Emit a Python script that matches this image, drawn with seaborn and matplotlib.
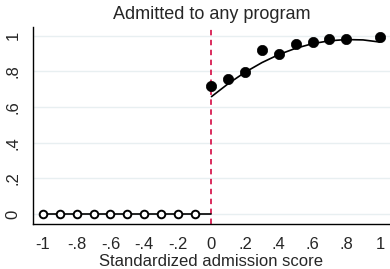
import numpy as np
import pandas as pd
import matplotlib
matplotlib.use("Agg")
import matplotlib.pyplot as plt
import seaborn as sns

# Data
left_x = [-1.0, -0.9, -0.8, -0.7, -0.6, -0.5, -0.4, -0.3, -0.2, -0.1]
left_y = [0, 0, 0, 0, 0, 0, 0, 0, 0, 0]
left_fit_x = [-1.0, 0.0]
left_fit_y = [0.0, 0.0]
right_x = [0.0, 0.1, 0.2, 0.3, 0.4, 0.5, 0.6, 0.7, 0.8, 1.0]
right_y = [0.72, 0.76, 0.796, 0.92, 0.897, 0.953, 0.968, 0.981, 0.981, 0.996]
right_fit_x = [0.0, 0.1, 0.2, 0.3, 0.4, 0.5, 0.6, 0.7, 0.8, 0.9, 1.0]
right_fit_y = [0.659, 0.732, 0.796, 0.850, 0.895, 0.930, 0.956, 0.972, 0.979, 0.977, 0.965]
x_ticks = [-1, -0.8, -0.6, -0.4, -0.2, 0, 0.2, 0.4, 0.6, 0.8, 1]
x_tick_labels = ["-1", "-.8", "-.6", "-.4", "-.2", "0", ".2", ".4", ".6", ".8", "1"]
y_ticks = [0, 0.2, 0.4, 0.6, 0.8, 1]
y_tick_labels = ["0", ".2", ".4", ".6", ".8", "1"]
title = "Admitted to any program"
xlabel = "Standardized admission score"

sns.set_style("white")
plt.rcParams['font.family'] = ['Liberation Sans', 'DejaVu Sans']

fig = plt.figure(figsize=(3.9, 2.69), dpi=100)
ax = fig.add_axes([0.0846, 0.167, 0.9154, 0.733])

for yt in y_ticks:
    ax.axhline(yt, color="#e8eff1", lw=1.0, zorder=0)

ax.axvline(0, color="#d81b50", lw=1.3, ls=(0, (3, 2.5)), zorder=1)

sns.lineplot(x=left_fit_x, y=left_fit_y, ax=ax, color="black", lw=1.2, zorder=2)
sns.lineplot(x=right_fit_x, y=right_fit_y, ax=ax, color="black", lw=1.2, zorder=2)
sns.scatterplot(x=left_x, y=left_y, ax=ax, s=30, facecolor="white",
                edgecolor="black", linewidth=1.4, zorder=3)
sns.scatterplot(x=right_x, y=right_y, ax=ax, s=55, color="black",
                edgecolor="black", linewidth=0.5, zorder=3)

ax.set_xlim(-1.06, 1.06)
ax.set_ylim(-0.056, 1.05)
ax.set_xticks(x_ticks)
ax.set_xticklabels(x_tick_labels, fontsize=12)
ax.set_yticks(y_ticks)
ax.set_yticklabels(y_tick_labels, fontsize=12, rotation=90, va="center")
ax.tick_params(axis="both", direction="out", length=6, width=1, color="black", pad=3)
for s in ["top", "right"]:
    ax.spines[s].set_visible(False)
for s in ["left", "bottom"]:
    ax.spines[s].set_color("black")
    ax.spines[s].set_linewidth(1.0)
ax.set_title(title, fontsize=13, pad=5.5)
ax.set_xlabel(xlabel, fontsize=12, labelpad=2)
ax.set_ylabel("")

fig.savefig("out.png", dpi=100)
